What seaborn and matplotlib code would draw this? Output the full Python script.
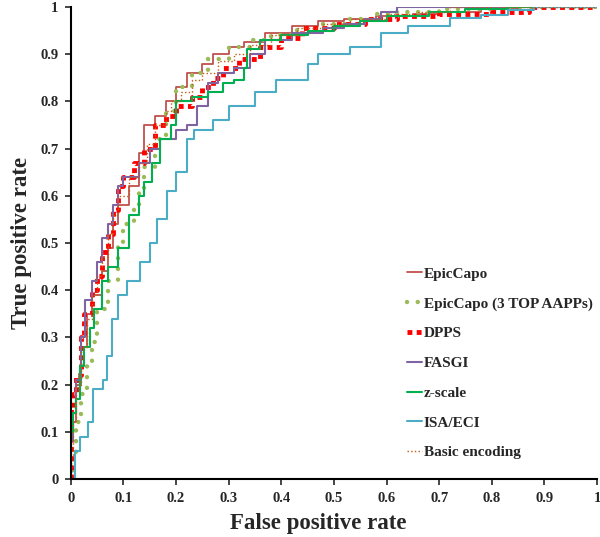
import matplotlib
matplotlib.use("Agg")
import matplotlib.pyplot as plt
import seaborn as sns

# ROC points (false positive rate, true positive rate)
epiccapo_fpr = [0, 0, 0.01, 0.02, 0.03, 0.04, 0.06, 0.07, 0.08, 0.09, 0.11, 0.13, 0.14, 0.16, 0.18, 0.20, 0.22, 0.25, 0.27, 0.30, 0.33, 0.37, 0.42, 0.47, 0.52, 0.58, 0.65, 0.70, 0.78, 0.85, 1.0]
epiccapo_tpr = [0, 0.12, 0.20, 0.28, 0.35, 0.39, 0.44, 0.49, 0.54, 0.58, 0.62, 0.69, 0.75, 0.77, 0.80, 0.83, 0.86, 0.88, 0.90, 0.915, 0.925, 0.945, 0.96, 0.97, 0.975, 0.98, 0.985, 0.99, 0.995, 1.0, 1.0]

top3_fpr = [0, 0.005, 0.01, 0.02, 0.03, 0.04, 0.05, 0.07, 0.09, 0.10, 0.12, 0.13, 0.14, 0.16, 0.18, 0.20, 0.23, 0.26, 0.30, 0.34, 0.38, 0.43, 0.48, 0.53, 0.58, 0.62, 0.70, 0.80, 1.0]
top3_tpr = [0, 0.05, 0.12, 0.18, 0.24, 0.29, 0.36, 0.42, 0.50, 0.54, 0.58, 0.61, 0.66, 0.72, 0.78, 0.83, 0.86, 0.89, 0.915, 0.93, 0.94, 0.955, 0.965, 0.975, 0.985, 0.99, 0.995, 1.0, 1.0]

dpps_fpr = [0, 0, 0.005, 0.01, 0.02, 0.025, 0.04, 0.05, 0.06, 0.07, 0.08, 0.09, 0.10, 0.12, 0.14, 0.16, 0.18, 0.20, 0.23, 0.25, 0.27, 0.29, 0.32, 0.36, 0.40, 0.44, 0.50, 0.56, 0.62, 0.70, 0.80, 0.87, 1.0]
dpps_tpr = [0, 0.15, 0.18, 0.22, 0.30, 0.35, 0.40, 0.43, 0.48, 0.52, 0.57, 0.62, 0.64, 0.67, 0.70, 0.75, 0.77, 0.79, 0.81, 0.83, 0.85, 0.87, 0.89, 0.915, 0.935, 0.955, 0.965, 0.975, 0.98, 0.985, 0.99, 1.0, 1.0]

fasgi_fpr = [0, 0, 0.005, 0.01, 0.02, 0.027, 0.04, 0.05, 0.06, 0.07, 0.08, 0.09, 0.10, 0.13, 0.15, 0.17, 0.20, 0.22, 0.24, 0.26, 0.28, 0.31, 0.34, 0.37, 0.42, 0.48, 0.52, 0.56, 0.59, 0.62, 1.0]
fasgi_tpr = [0, 0.08, 0.14, 0.21, 0.30, 0.38, 0.42, 0.46, 0.51, 0.54, 0.58, 0.62, 0.64, 0.67, 0.70, 0.72, 0.74, 0.75, 0.79, 0.84, 0.86, 0.87, 0.90, 0.93, 0.945, 0.955, 0.965, 0.975, 0.99, 1.0, 1.0]

zscale_fpr = [0, 0, 0.005, 0.01, 0.017, 0.025, 0.036, 0.045, 0.06, 0.07, 0.09, 0.11, 0.13, 0.14, 0.155, 0.17, 0.19, 0.20, 0.23, 0.26, 0.29, 0.31, 0.33, 0.335, 0.36, 0.40, 0.45, 0.50, 0.55, 0.60, 0.68, 0.75, 0.83, 1.0]
zscale_tpr = [0, 0.10, 0.14, 0.17, 0.24, 0.28, 0.32, 0.36, 0.42, 0.45, 0.49, 0.56, 0.60, 0.63, 0.67, 0.72, 0.75, 0.80, 0.81, 0.82, 0.84, 0.845, 0.87, 0.91, 0.93, 0.94, 0.95, 0.96, 0.97, 0.98, 0.99, 0.995, 1.0, 1.0]

isa_fpr = [0, 0.008, 0.008, 0.017, 0.032, 0.042, 0.061, 0.068, 0.078, 0.089, 0.106, 0.131, 0.15, 0.163, 0.183, 0.20, 0.22, 0.235, 0.27, 0.30, 0.35, 0.39, 0.45, 0.47, 0.53, 0.59, 0.64, 0.72, 0.78, 0.83, 0.88, 1.0]
isa_tpr = [0, 0, 0.06, 0.09, 0.12, 0.19, 0.21, 0.26, 0.34, 0.39, 0.42, 0.46, 0.50, 0.55, 0.61, 0.65, 0.72, 0.74, 0.76, 0.79, 0.82, 0.845, 0.88, 0.90, 0.915, 0.945, 0.96, 0.977, 0.983, 0.994, 1.0, 1.0]

basic_fpr = [0, 0, 0.005, 0.01, 0.02, 0.03, 0.04, 0.05, 0.06, 0.07, 0.08, 0.09, 0.11, 0.13, 0.145, 0.16, 0.18, 0.19, 0.21, 0.23, 0.25, 0.28, 0.31, 0.34, 0.38, 0.43, 0.48, 0.53, 0.60, 0.66, 0.72, 1.0]
basic_tpr = [0, 0.05, 0.12, 0.20, 0.28, 0.34, 0.39, 0.43, 0.47, 0.52, 0.56, 0.60, 0.64, 0.67, 0.71, 0.75, 0.78, 0.80, 0.82, 0.845, 0.86, 0.885, 0.90, 0.92, 0.94, 0.955, 0.965, 0.975, 0.985, 0.99, 1.0, 1.0]

ticks = [0, 0.1, 0.2, 0.3, 0.4, 0.5, 0.6, 0.7, 0.8, 0.9, 1]
tick_labels = ["0", "0.1", "0.2", "0.3", "0.4", "0.5", "0.6", "0.7", "0.8", "0.9", "1"]

sns.set_style("white")
plt.rcParams["font.family"] = ["Liberation Serif", "DejaVu Serif"]
plt.rcParams["font.weight"] = "bold"

fig = plt.figure(figsize=(6, 5.37), dpi=100)
ax = fig.add_axes([0.118, 0.108, 0.877, 0.879])

# name, x, y, colour, line width, line style
series = [
    ("EpicCapo", epiccapo_fpr, epiccapo_tpr, "#C0504D", 1.3, "-"),
    ("EpicCapo (3 TOP AAPPs)", top3_fpr, top3_tpr, "#9BBB59", 3.2, (0, (0.01, 2.4))),
    ("DPPS", dpps_fpr, dpps_tpr, "#FF0000", 3.5, (0, (1, 0.9))),
    ("FASGI", fasgi_fpr, fasgi_tpr, "#8064A2", 1.5, "-"),
    ("z-scale", zscale_fpr, zscale_tpr, "#00B050", 1.5, "-"),
    ("ISA/ECI", isa_fpr, isa_tpr, "#4BACC6", 1.5, "-"),
    ("Basic encoding", basic_fpr, basic_tpr, "#C55A11", 1.0, ":"),
]

for name, xs, ys, col, lw, ls in series:
    kw = {}
    if name == "EpicCapo (3 TOP AAPPs)":
        kw["dash_capstyle"] = "round"
    sns.lineplot(x=xs, y=ys, ax=ax, color=col, linewidth=lw, linestyle=ls,
                 drawstyle="steps-post", estimator=None, sort=False,
                 label=name, **kw)

ax.set_xlim(0, 1)
ax.set_ylim(0, 1)
ax.set_xticks(ticks)
ax.set_xticklabels(tick_labels)
ax.set_yticks(ticks)
ax.set_yticklabels(tick_labels)
ax.tick_params(axis="both", direction="out", length=4, width=1.2,
               labelsize=10.5, bottom=True, left=True, pad=5)
for lab in ax.get_xticklabels() + ax.get_yticklabels():
    lab.set_fontweight("bold")

sns.despine(ax=ax)
for side in ["left", "bottom"]:
    ax.spines[side].set_color("black")
    ax.spines[side].set_linewidth(1.5)

ax.set_xlabel("False positive rate", fontsize=16.5, fontweight="bold", labelpad=6)
ax.xaxis.label.set_x(0.47)
ax.set_ylabel("True positive rate", fontsize=16.5, fontweight="bold", labelpad=6)

leg = ax.legend(loc="upper left", bbox_to_anchor=(0.627, 0.462), frameon=False,
                fontsize=11, handlelength=1.0, handletextpad=0.1,
                labelspacing=1.05, borderaxespad=0)
for t in leg.get_texts():
    t.set_fontweight("bold")

fig.savefig("out.png", dpi=100)
